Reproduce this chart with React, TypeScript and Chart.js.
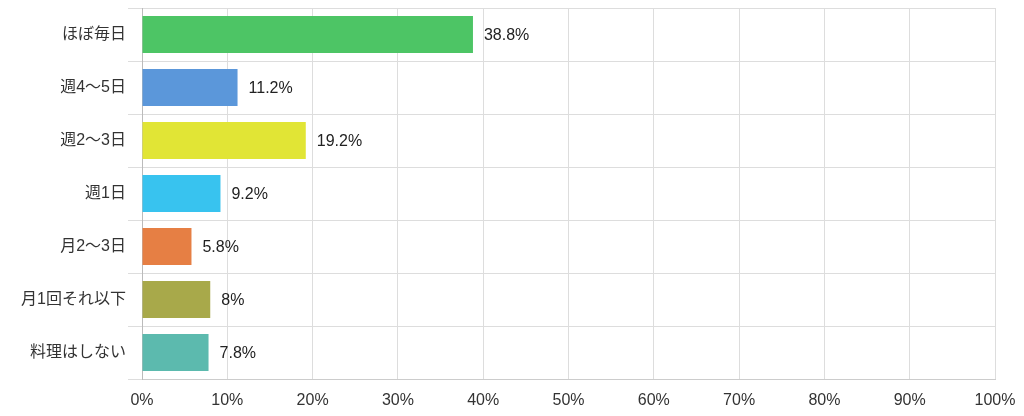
import React, { useEffect, useRef } from "react";
import { Chart, registerables } from "chart.js";

Chart.register(...registerables);

const categories = ["ほぼ毎日", "週4〜5日", "週2〜3日", "週1日", "月2〜3日", "月1回それ以下", "料理はしない"];
const values = [38.8, 11.2, 19.2, 9.2, 5.8, 8, 7.8];
const valueLabels = ["38.8%", "11.2%", "19.2%", "9.2%", "5.8%", "8%", "7.8%"];
const barColors = ["#4dc565", "#5b97da", "#e1e535", "#38c3ef", "#e67f44", "#a8a94a", "#5cbaae"];
const tickValues = [0, 10, 20, 30, 40, 50, 60, 70, 80, 90, 100];

const FONT = "'Liberation Sans', 'Noto Sans CJK JP', sans-serif";

export default function App() {
  const ref = useRef<HTMLCanvasElement | null>(null);
  useEffect(() => {
    if (!ref.current) return;
    const labelPlugin = {
      id: "valueLabels",
      afterDatasetsDraw(chart: any) {
        const ctx = chart.ctx;
        const meta = chart.getDatasetMeta(0);
        ctx.save();
        ctx.font = `16px ${FONT}`;
        ctx.fillStyle = "#222";
        ctx.textAlign = "left";
        ctx.textBaseline = "middle";
        meta.data.forEach((el: any, i: number) => {
          ctx.fillText(valueLabels[i], el.x + 11, el.y + 1);
        });
        ctx.restore();
      },
    };
    const chart = new Chart(ref.current, {
      type: "bar",
      data: {
        labels: categories,
        datasets: [
          {
            data: values,
            backgroundColor: barColors,
            borderWidth: 0,
            barPercentage: 0.7,
            categoryPercentage: 1,
          },
        ],
      },
      options: {
        indexAxis: "y",
        animation: false,
        responsive: false,
        maintainAspectRatio: false,
        layout: { padding: { top: 8, right: 29, left: 0, bottom: 0 } },
        plugins: { legend: { display: false }, tooltip: { enabled: false } },
        scales: {
          x: {
            min: 0,
            max: 100,
            afterBuildTicks(scale: any) {
              scale.ticks = tickValues.map((v) => ({ value: v }));
            },
            afterFit(scale: any) {
              scale.height = 37;
              scale.paddingRight = 0;
              scale.paddingLeft = 0;
            },
            ticks: {
              callback: (v: any) => `${v}%`,
              color: "#333",
              font: { size: 16, family: FONT },
              padding: 12,
              maxRotation: 0,
            },
            grid: { color: "#dddddd", drawTicks: false },
            border: { color: "#cccccc" },
          },
          y: {
            afterFit(scale: any) {
              scale.width = 142;
              scale.paddingTop = 0;
              scale.paddingBottom = 0;
            },
            ticks: {
              color: "#333",
              font: { size: 16, family: FONT },
              padding: 2,
            },
            grid: { color: "#dddddd", offset: true, tickLength: 14 },
            border: { color: "#bbbbbb" },
          },
        },
      },
      plugins: [labelPlugin],
    });
    return () => chart.destroy();
  }, []);
  return (
    <div style={{ position: "fixed", left: 0, top: 0, width: 1024, height: 416, background: "#fff" }}>
      <canvas ref={ref} width={1024} height={416} style={{ width: 1024, height: 416 }} />
    </div>
  );
}
